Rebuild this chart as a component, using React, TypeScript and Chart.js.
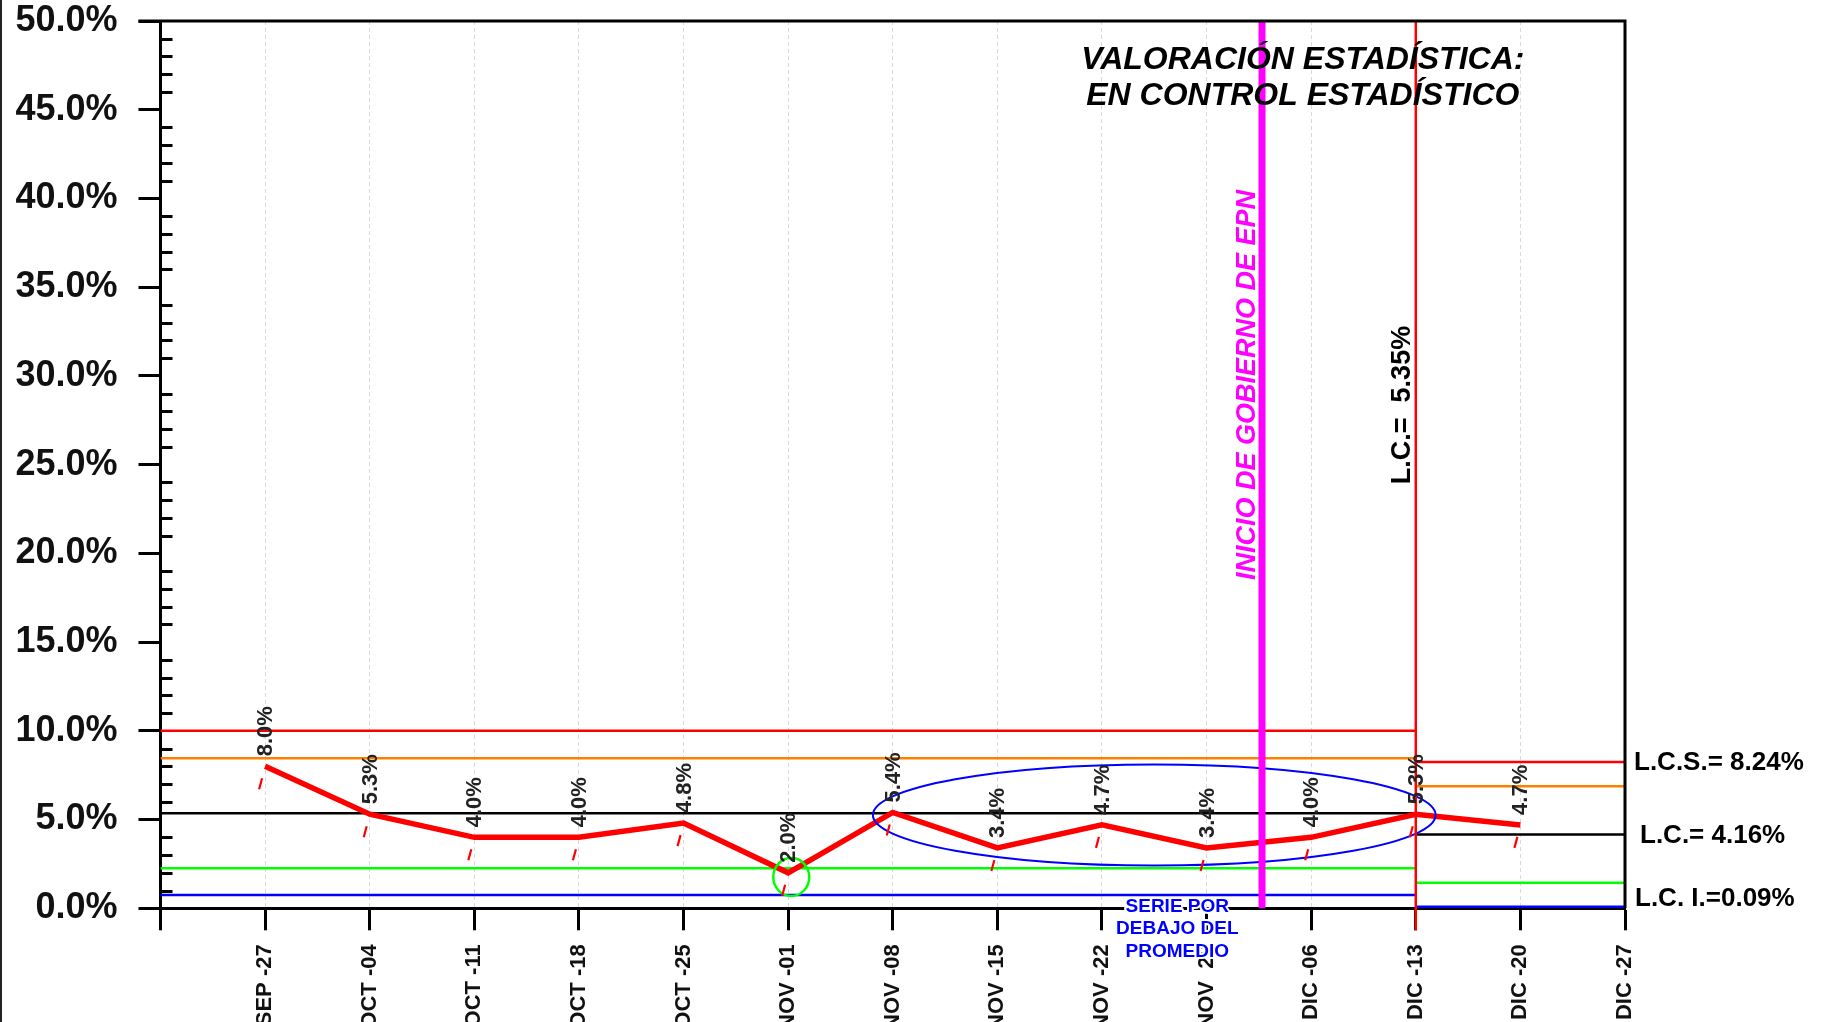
import React, { useEffect, useRef } from 'react';
import { Chart, registerables } from 'chart.js';

Chart.register(...registerables);

// ---- data ----
const xLabels = ['', 'SEP -27', 'OCT -04', 'OCT -11', 'OCT -18', 'OCT -25', 'NOV -01', 'NOV -08', 'NOV -15', 'NOV -22', 'NOV  29', 'DIC -06', 'DIC -13', 'DIC -20', 'DIC -27'];
const weekValues = [8.0, 5.3, 4.0, 4.0, 4.8, 2.0, 5.4, 3.4, 4.7, 3.4, 4.0, 5.3, 4.7];
const phase1Limits = [10.0, 8.45, 5.35, 2.25, 0.75];
const phase2Limits = [8.24, 6.88, 4.16, 1.44, 0.09];
const limitColors = ['#ff0000', '#ff8000', '#000000', '#00ff00', '#0000ff'];
const phase1Range = [0, 12];
const phase2Range = [12, 14];
const yTicks = { min: 0, max: 50, step: 5 };
const epnStart = 10.53;
const phaseSplit = 12;
const titleLines = ['VALORACIÓN ESTADÍSTICA:', 'EN CONTROL ESTADÍSTICO'];
const epnText = 'INICIO DE GOBIERNO DE EPN';
const phase1CenterText = 'L.C.=  5.35%';
const rightLimitLabels = ['L.C.S.= 8.24%', 'L.C.= 4.16%', 'L.C. I.=0.09%'];
const rightLimitValues = [8.24, 4.16, 0.09];
const belowAvgText = ['SERIE POR', 'DEBAJO DEL', 'PROMEDIO'];
const belowAvgEllipse = [9.5, 5.26, 2.69, 2.85]; // cx, cy, rx, ry (data units)
const lowPointCircle = [6.03, 1.76];

const FONT = '"Liberation Sans", Arial, Helvetica, sans-serif';

const overlayPlugin = {
  id: 'overlay',
  afterDatasetsDraw(chart: any) {
    const { ctx, chartArea: a, scales } = chart;
    const x = scales.x;
    const y = scales.y;
    ctx.save();

    // blue ellipse (series below the average)
    const [ecx, ecy, erx, ery] = belowAvgEllipse;
    const ex = x.getPixelForValue(ecx);
    const ey = y.getPixelForValue(ecy);
    const rx = x.getPixelForValue(ecx + erx) - ex;
    const ry = ey - y.getPixelForValue(ecy + ery);
    ctx.beginPath();
    ctx.ellipse(ex, ey, rx, ry, 0, 0, Math.PI * 2);
    ctx.strokeStyle = '#0000ff';
    ctx.lineWidth = 2;
    ctx.stroke();

    // green circle
    const gx = x.getPixelForValue(lowPointCircle[0]);
    const gy = y.getPixelForValue(lowPointCircle[1]);
    ctx.beginPath();
    ctx.ellipse(gx, gy, 18, 19, 0, 0, Math.PI * 2);
    ctx.strokeStyle = '#00ff00';
    ctx.lineWidth = 2.5;
    ctx.stroke();

    // magenta vertical line
    const mx = x.getPixelForValue(epnStart);
    ctx.beginPath();
    ctx.moveTo(mx, a.top);
    ctx.lineTo(mx, a.bottom);
    ctx.strokeStyle = '#ff00ff';
    ctx.lineWidth = 7;
    ctx.stroke();

    // red vertical line at phase split
    const rxp = x.getPixelForValue(phaseSplit);
    ctx.beginPath();
    ctx.moveTo(rxp, a.top);
    ctx.lineTo(rxp, a.bottom + 22);
    ctx.strokeStyle = '#ff0000';
    ctx.lineWidth = 2.5;
    ctx.stroke();

    // data labels + red slashes
    const meta = chart.getDatasetMeta(0);
    meta.data.forEach((pt: any, i: number) => {
      ctx.save();
      ctx.translate(pt.x + 1, pt.y - 10);
      ctx.rotate(-Math.PI / 2);
      ctx.font = `bold 22px ${FONT}`;
      ctx.fillStyle = '#222222';
      ctx.textAlign = 'left';
      ctx.textBaseline = 'middle';
      ctx.fillText(weekValues[i].toFixed(1) + '%', 0, 0);
      ctx.restore();

      ctx.beginPath();
      ctx.moveTo(pt.x - 6, pt.y + 23);
      ctx.lineTo(pt.x - 3, pt.y + 12);
      ctx.strokeStyle = '#ff0000';
      ctx.lineWidth = 2.2;
      ctx.stroke();
    });

    // title
    ctx.font = `italic bold 32px ${FONT}`;
    ctx.fillStyle = '#000';
    ctx.textAlign = 'center';
    ctx.textBaseline = 'alphabetic';
    const tx = x.getPixelForValue(10.92);
    ctx.fillText(titleLines[0], tx, a.top + 48);
    ctx.fillText(titleLines[1], tx, a.top + 84);

    // magenta rotated text
    ctx.save();
    ctx.translate(mx - 7, y.getPixelForValue(18.5));
    ctx.rotate(-Math.PI / 2);
    ctx.font = `italic bold 27px ${FONT}`;
    ctx.fillStyle = '#ff00ff';
    ctx.textAlign = 'left';
    ctx.textBaseline = 'alphabetic';
    ctx.fillText(epnText, 0, 0);
    ctx.restore();

    // L.C. rotated text
    ctx.save();
    ctx.translate(rxp - 6, y.getPixelForValue(23.9));
    ctx.rotate(-Math.PI / 2);
    ctx.font = `bold 27px ${FONT}`;
    ctx.fillStyle = '#000';
    ctx.textAlign = 'left';
    ctx.textBaseline = 'alphabetic';
    ctx.fillText(phase1CenterText, 0, 0);
    ctx.restore();

    // right limit labels
    ctx.font = `bold 26px ${FONT}`;
    ctx.fillStyle = '#000';
    ctx.textAlign = 'left';
    ctx.textBaseline = 'middle';
    const rOffsets = [[9, 1], [15, 1], [10, -8]];
    rightLimitValues.forEach((v, i) => {
      ctx.fillText(rightLimitLabels[i], a.right + rOffsets[i][0], y.getPixelForValue(v) + rOffsets[i][1]);
    });

    // "SERIE POR DEBAJO DEL PROMEDIO"
    ctx.font = `bold 19px ${FONT}`;
    ctx.textAlign = 'center';
    ctx.textBaseline = 'middle';
    const bx = x.getPixelForValue(9.72);
    belowAvgText.forEach((t, i) => {
      const ty = a.bottom - 2 + i * 22.5;
      ctx.strokeStyle = '#ffffff';
      ctx.lineWidth = 4;
      ctx.lineJoin = 'round';
      ctx.strokeText(t, bx, ty);
      ctx.fillStyle = '#0000ff';
      ctx.fillText(t, bx, ty);
    });

    ctx.restore();
  },
  afterDraw(chart: any) {
    const { ctx, chartArea: a, scales } = chart;
    const y = scales.y;
    ctx.save();
    ctx.strokeStyle = '#000';
    ctx.lineWidth = 3;
    // top and right frame
    ctx.beginPath();
    ctx.moveTo(a.left - 22, a.top);
    ctx.lineTo(a.right + 1.5, a.top);
    ctx.moveTo(a.right, a.top);
    ctx.lineTo(a.right, a.bottom);
    ctx.stroke();
    // minor ticks every 1%
    ctx.beginPath();
    for (let v = yTicks.min + 1; v < yTicks.max; v++) {
      if (v % yTicks.step === 0) continue;
      const py = Math.round(y.getPixelForValue(v)) + 0.5;
      ctx.moveTo(a.left, py);
      ctx.lineTo(a.left + 12, py);
    }
    ctx.stroke();
    // page left edge line
    ctx.beginPath();
    ctx.strokeStyle = '#222';
    ctx.lineWidth = 2;
    ctx.moveTo(1, 0);
    ctx.lineTo(1, chart.height);
    ctx.stroke();
    ctx.restore();
  },
};

export default function App() {
  const canvasRef = useRef<HTMLCanvasElement | null>(null);

  useEffect(() => {
    const canvas = canvasRef.current;
    if (!canvas) return;

    const seriesData = weekValues.map((v, i) => ({ x: i + 1, y: v }));
    const limitSets: any[] = [];
    phase1Limits.forEach((v, i) => {
      limitSets.push({
        data: [{ x: phase1Range[0], y: v }, { x: phase1Range[1], y: v }],
        borderColor: limitColors[i],
        borderWidth: 2.5,
        pointRadius: 0,
        fill: false,
      });
    });
    phase2Limits.forEach((v, i) => {
      limitSets.push({
        data: [{ x: phase2Range[0], y: v }, { x: phase2Range[1], y: v }],
        borderColor: limitColors[i],
        borderWidth: 2.5,
        pointRadius: 0,
        fill: false,
      });
    });

    const chart = new Chart(canvas, {
      type: 'line',
      data: {
        datasets: [
          {
            data: seriesData,
            borderColor: '#ff0000',
            borderWidth: 5.5,
            pointRadius: 0,
            fill: false,
            tension: 0,
          },
          ...limitSets,
        ],
      },
      options: {
        responsive: false,
        animation: false,
        devicePixelRatio: 1,
        layout: { padding: { top: 21, right: 199, bottom: 0, left: 0 } },
        plugins: {
          legend: { display: false },
          tooltip: { enabled: false },
        },
        scales: {
          x: {
            type: 'linear',
            min: 0,
            max: xLabels.length - 1,
            afterFit: (s: any) => { s.height = 113.7; s.paddingLeft = 0; s.paddingRight = 0; },
            ticks: {
              stepSize: 1,
              autoSkip: false,
              minRotation: 90,
              maxRotation: 90,
              padding: 14,
              color: '#111',
              font: { family: FONT, size: 22, weight: 'bold' },
              callback: (v: any) => xLabels[Math.round(Number(v))] ?? '',
            },
            grid: {
              color: (c: any) => (c.index === 0 || c.index === xLabels.length - 1 ? 'rgba(0,0,0,0)' : '#d9d9d9'),
              lineWidth: 1,
              tickColor: '#000',
              tickWidth: 3,
              tickLength: 22,
              drawTicks: true,
            },
            border: { display: true, color: '#000', width: 3, dash: [4, 3] },
          },
          y: {
            type: 'linear',
            min: yTicks.min,
            max: yTicks.max,
            afterFit: (s: any) => { s.width = 160.5; s.paddingTop = 0; s.paddingBottom = 0; },
            ticks: {
              stepSize: yTicks.step,
              padding: 21,
              color: '#111',
              font: { family: FONT, size: 36, weight: 'bold', lineHeight: 1 },
              callback: (v: any) => Number(v).toFixed(1) + '%',
            },
            grid: {
              drawOnChartArea: false,
              drawTicks: true,
              tickColor: '#000',
              tickWidth: 3,
              tickLength: 22,
              color: '#000',
            },
            border: { display: true, color: '#000', width: 3 },
          },
        },
      } as any,
      plugins: [overlayPlugin],
    });

    return () => chart.destroy();
  }, []);

  return (
    <div style={{ position: 'fixed', left: 0, top: 0, width: 1824, height: 1022, background: '#fff' }}>
      <canvas ref={canvasRef} width={1824} height={1022} style={{ display: 'block' }} />
    </div>
  );
}
